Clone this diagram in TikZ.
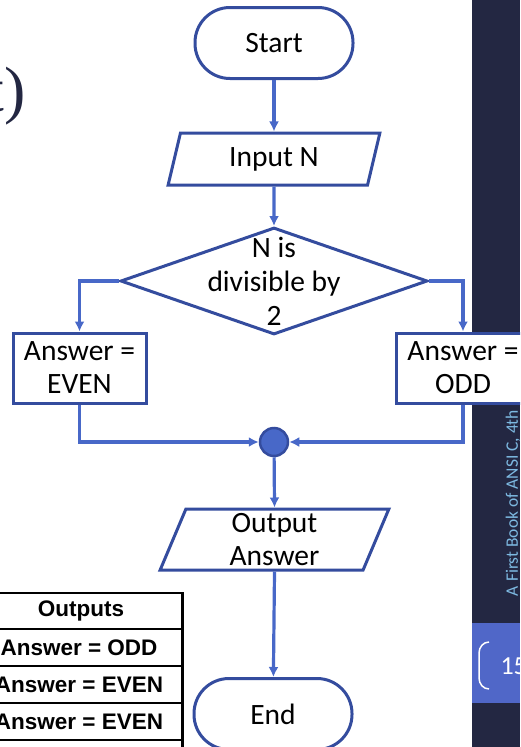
\documentclass[tikz,border=0pt]{standalone}
\usepackage{fontspec}
\setmainfont{Carlito}
\newfontfamily\tablefont{Liberation Sans}
\newfontfamily\titlefont{Liberation Serif}
\usetikzlibrary{arrows.meta,shapes.geometric}
\definecolor{slidenavy}{RGB}{35,39,66}
\definecolor{slideblue}{RGB}{80,103,200}
\definecolor{footnote}{RGB}{125,185,225}
\definecolor{chartline}{RGB}{52,76,158}
\definecolor{flowline}{RGB}{72,104,200}

\begin{document}
\begin{tikzpicture}[x=1pt,y=-1pt,line join=miter,>={Latex[length=10pt,width=10pt]},
  font=\fontsize{29.5}{33}\selectfont,
  terminal/.style={draw=chartline,line width=3pt,fill=white,rounded corners=35pt,
    minimum width=158pt,minimum height=71pt,inner sep=0pt},
  io/.style={trapezium,trapezium left angle=76,trapezium right angle=104,
    trapezium stretches=true,draw=chartline,line width=3pt,fill=white,
    inner sep=0pt,align=center},
  process/.style={draw=chartline,line width=3pt,fill=white,minimum width=133pt,
    minimum height=70pt,inner sep=0pt,align=center},
  decision/.style={diamond,draw=chartline,line width=3pt,fill=white,
    minimum width=307pt,minimum height=107pt,inner sep=0pt},
  flow/.style={flowline,line width=3.2pt,->},
  cell/.style={font=\tablefont\bfseries\fontsize{22.5}{26}\selectfont}]
  \useasboundingbox (0,0) rectangle (520,747);
  \clip (0,0) rectangle (520,747);

  % slide background
  \fill[slidenavy] (472,0) rectangle (520,747);
  \fill[slideblue] (472,623) rectangle (520,703);
  \draw[white,line width=1.5pt] (489,642) to[out=180,in=90] (479,653) -- (479,678)
    to[out=-90,in=180] (489,689);
  \node[white,anchor=west,font=\fontsize{26}{30}\selectfont] (pagenum) at (497,666) {15};
  \node[footnote,rotate=90,font=\fontsize{17.5}{20}\selectfont] (booktitle) at (513,503)
    {A First Book of ANSI C, 4th};
  \node[slidenavy,anchor=base east,inner sep=0pt,font=\titlefont\fontsize{64}{70}\selectfont]
    (titletail) at (26,111) {t)};

  % table
  \draw[black,line width=2pt] (-10,593) -- (182,593);
  \draw[black,line width=1.2pt] (-10,629) -- (182,629) (-10,666) -- (182,666)
    (-10,703) -- (182,703) (-10,740) -- (182,740);
  \draw[black,line width=3pt] (182,592) -- (182,760);
  \node[cell] (head) at (81,611) {Outputs};
  \node[cell] (row1) at (79,647.5) {Answer = ODD};
  \node[cell] (row2) at (79,684.5) {Answer = EVEN};
  \node[cell] (row3) at (79,721.5) {Answer = EVEN};
  \node[cell] (row4) at (79,757) {Answer = ODD};

  % flowchart
  \node[terminal] (start) at (274,43) {Start};
  \node[io,minimum width=212pt,minimum height=52pt] (input) at (274,159) {Input N};
  \node[decision] (test) at (274,281) {};
  \node[align=center,inner sep=0pt,font=\fontsize{29.5}{34}\selectfont] (testtext) at (test)
    {N is\\divisible by\\2};
  \node[process] (even) at (79.5,368) {Answer =\\EVEN};
  \node[process] (odd) at (463,368) {Answer =\\ODD};
  \node[circle,draw=chartline,fill=flowline,line width=2.5pt,minimum size=28pt,
    inner sep=0pt] (merge) at (274,442) {};
  \node[io,minimum width=229pt,minimum height=61pt] (output) at (274.5,539.5)
    {Output\\Answer};
  \node[terminal] (end) at (273,714) {End};

  \draw[flow] (start) -- (input);
  \draw[flow] (input) -- (test);
  \draw[flow] (test.west) -| (even.north);
  \draw[flow] (test.east) -| (odd.north);
  \draw[flow] (even.south) |- (merge.west);
  \draw[flow] (odd.south) |- (merge.east);
  \draw[flow] (merge) -- (output.north);
  \draw[flow] (output.south) -- (end);
\end{tikzpicture}
\end{document}
